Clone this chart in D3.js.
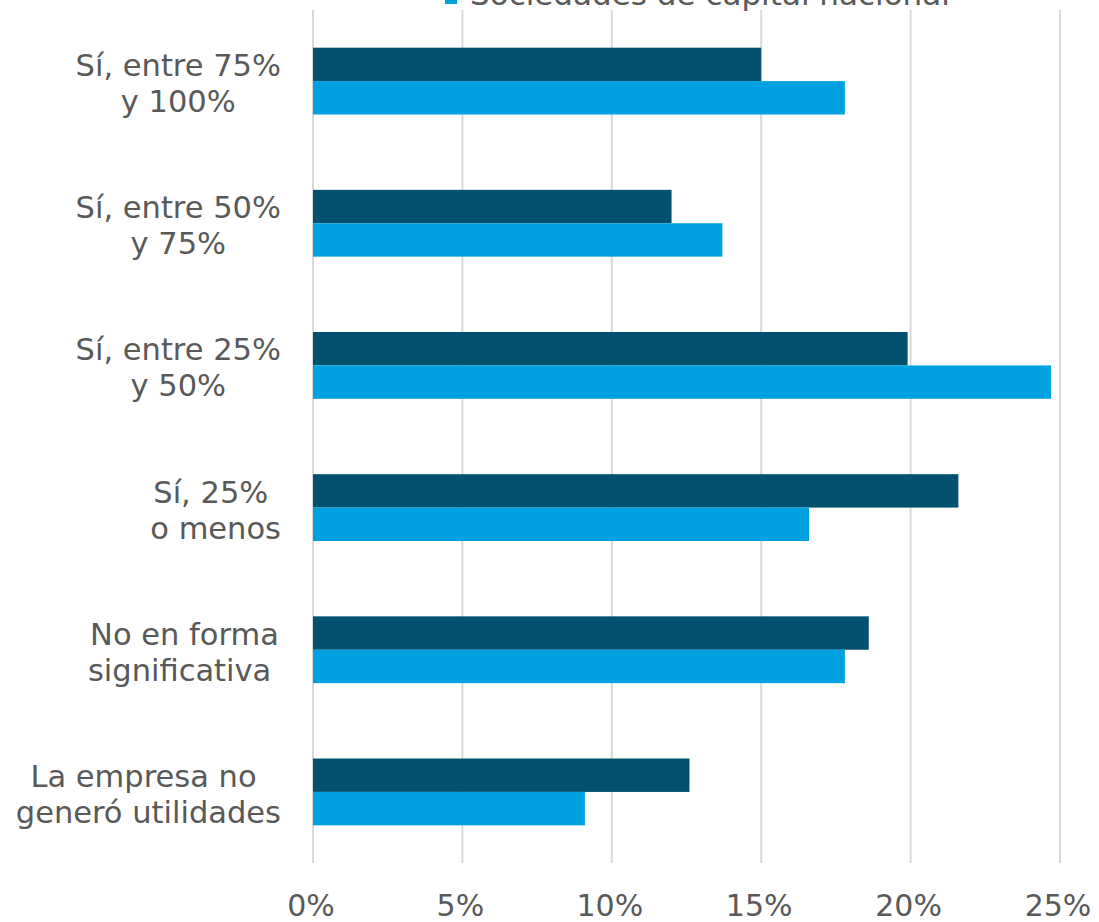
<!DOCTYPE html>
<html>
<head>
<meta charset="utf-8">
<script src="https://cdn.jsdelivr.net/npm/d3@7"></script>
<style>
  body { margin: 0; background: #fff; }
  svg { display: block; font-family: "DejaVu Sans", Verdana, sans-serif; }
</style>
</head>
<body>
<div id="chart"></div>
<script>
// chart data
var categories = [
  ["Sí, entre 75%", "y 100%"],
  ["Sí, entre 50%", "y 75%"],
  ["Sí, entre 25%", "y 50%"],
  ["Sí, 25% ", "o menos"],
  ["No en forma", "significativa "],
  ["La empresa no ", "generó utilidades"]
];
var seriesNames = ["Sociedades de capital extranjero", "Sociedades de capital nacional"];
var extranjero = [15.0, 12.0, 19.9, 21.6, 18.6, 12.6];
var nacional = [17.8, 13.7, 24.7, 16.6, 17.8, 9.1];
var ticks = [0, 5, 10, 15, 20, 25];

var width = 1099, height = 922;
var margin = {top: 10, right: 39, bottom: 59, left: 313};
var colors = ["#02516F", "#00A1E0"];
var textColor = "#595959";

var svg = d3.select("#chart").append("svg")
  .attr("width", width)
  .attr("height", height);

var x = d3.scaleLinear()
  .domain([0, 25])
  .range([margin.left, width - margin.right]);

var y = d3.scaleBand()
  .domain(d3.range(categories.length))
  .range([margin.top, height - margin.bottom])
  .paddingInner(0.53)
  .paddingOuter(0.265);

var inner = d3.scaleBand()
  .domain([0, 1])
  .range([0, y.bandwidth()]);

// gridlines
svg.append("g")
  .selectAll("line")
  .data(ticks)
  .join("line")
  .attr("x1", function(d) { return x(d); })
  .attr("x2", function(d) { return x(d); })
  .attr("y1", margin.top)
  .attr("y2", height - margin.bottom)
  .attr("stroke", "#d9d9d9")
  .attr("stroke-width", 2);

// tick labels
svg.append("g")
  .selectAll("text")
  .data(ticks)
  .join("text")
  .attr("x", function(d) { return x(d) - 2; })
  .attr("y", 916)
  .attr("text-anchor", "middle")
  .attr("fill", textColor)
  .style("font-size", "30px")
  .text(function(d) { return d + "%"; });

// bars
var series = [extranjero, nacional];
series.forEach(function(vals, s) {
  svg.append("g")
    .selectAll("rect")
    .data(vals)
    .join("rect")
    .attr("x", x(0))
    .attr("y", function(d, i) { return y(i) + inner(s); })
    .attr("width", function(d) { return x(d) - x(0); })
    .attr("height", inner.bandwidth())
    .attr("fill", colors[s]);
});

// category labels: block right aligned, lines centred inside the block
var labelRight = 281;
categories.forEach(function(lines, i) {
  var g = svg.append("g");
  var cy = y(i) + y.bandwidth() / 2;
  var texts = g.selectAll("text")
    .data(lines)
    .join("text")
    .attr("y", function(d, j) { return cy - 5 + j * 36; })
    .attr("text-anchor", "middle")
    .attr("fill", textColor)
    .style("font-size", "30.5px")
    .style("white-space", "pre")
    .text(function(d) { return d; });
  var maxW = d3.max(texts.nodes(), function(n) { return n.getComputedTextLength(); });
  texts.attr("x", labelRight - maxW / 2);
});

// legend (only the lower item is visible, top cut off)
var legend = svg.append("g");
legend.append("rect")
  .attr("x", 445).attr("y", -8)
  .attr("width", 12).attr("height", 12)
  .attr("fill", colors[1]);
legend.append("text")
  .attr("x", 470).attr("y", 5)
  .attr("fill", textColor)
  .style("font-size", "31px")
  .text(seriesNames[1]);
</script>
</body>
</html>
